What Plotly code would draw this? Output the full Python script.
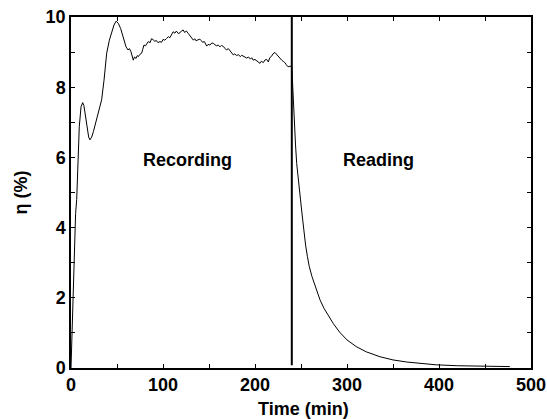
import plotly.graph_objects as go

# Recording phase (time in min, efficiency in %)
rec_t = [0, 1, 2, 3, 4, 5, 6.2, 7.5, 9, 10.9, 12.7, 14, 15.2, 16.5, 17.8, 19.2, 20.6, 22.5, 24.3, 26, 27.9, 29.7, 31.5, 33.3,
         35.9, 38.8, 41.7, 44, 46.7, 49, 51.4, 54, 56.9, 59.8, 62, 63.5, 65.2, 67.7, 69, 70.7, 72, 73.2, 75, 76.8, 78, 79.3,
         81, 82.5, 84, 86, 87.5, 89, 91, 92.8, 94.5, 96.7, 98.5, 100, 102, 104, 105.8, 107.5, 109, 111, 113, 114.5, 116.6,
         118.5, 120, 122, 123.5, 125.5, 127.5, 129, 131, 133, 134.5, 136, 138, 140, 141.5, 143, 145, 147.5, 149, 151, 153,
         154.7, 156.5, 158, 160, 162, 163.5, 165.6, 167.5, 169, 171, 173, 174.5, 176.4, 178, 180, 182, 184, 185.5, 187.3,
         189, 191, 193, 195, 196.5, 198, 200, 202, 203.5, 205.4, 207, 209, 211, 212.7, 214.5, 216, 218, 219.5, 221.7,
         223.5, 225, 227, 229, 231, 232.5, 234, 236, 238, 240]
rec_eta = [0.0, 0.9, 1.9, 2.9, 3.8, 4.4, 4.8, 6.0, 6.87, 7.44, 7.56, 7.48, 7.25, 6.98, 6.73, 6.58, 6.5, 6.58, 6.73, 6.9, 7.07, 7.22, 7.4, 7.64,
           8.2, 8.97, 9.34, 9.53, 9.77, 9.88, 9.82, 9.67, 9.44, 9.15, 9.06, 9.1, 9.01, 8.77, 8.86, 8.82, 8.9, 8.87, 8.94, 8.97, 9.08, 9.2,
           9.18, 9.26, 9.3, 9.27, 9.38, 9.36, 9.31, 9.33, 9.27, 9.3, 9.28, 9.36, 9.34, 9.39, 9.44, 9.41, 9.5, 9.58, 9.54, 9.6, 9.53,
           9.55, 9.6, 9.63, 9.56, 9.6, 9.53, 9.48, 9.43, 9.34, 9.38, 9.32, 9.35, 9.37, 9.33, 9.28, 9.3, 9.17, 9.22, 9.2, 9.26,
           9.25, 9.21, 9.18, 9.2, 9.15, 9.19, 9.16, 9.1, 9.06, 9.1, 9.02, 8.98, 8.92, 8.95, 8.9, 8.93, 8.87, 8.91, 8.89,
           8.85, 8.83, 8.86, 8.8, 8.84, 8.77, 8.79, 8.74, 8.71, 8.68, 8.74, 8.7, 8.78, 8.79, 8.72, 8.84, 8.88, 8.95, 8.99,
           8.93, 8.88, 8.82, 8.77, 8.73, 8.7, 8.64, 8.58, 8.6, 8.58]

# Reading phase
read_t = [240, 240.5, 241, 242, 243, 244, 245.3, 246.5, 248, 249.5, 251.5, 253.3, 255, 257, 259, 262, 266, 270.7,
          275, 280, 285, 292, 300, 310, 321, 336, 350, 365, 380, 397, 420, 450, 477]
read_eta = [8.58, 8.25, 7.92, 7.35, 6.85, 6.38, 5.83, 5.48, 5.13, 4.79, 4.3, 3.84, 3.5, 3.17, 2.89, 2.6, 2.27, 1.94,
            1.7, 1.47, 1.27, 1.02, 0.8, 0.61, 0.46, 0.32, 0.23, 0.17, 0.13, 0.09, 0.065, 0.05, 0.04]

# Phase separator
sep_t = [240, 240]
sep_eta = [0.08, 10]

x_ticks = [0, 50, 100, 150, 200, 250, 300, 350, 400, 450, 500]
x_labels = ["0", "", "100", "", "200", "", "300", "", "400", "", "500"]
y_ticks = [0, 1, 2, 3, 4, 5, 6, 7, 8, 9, 10]
y_labels = ["0", "", "2", "", "4", "", "6", "", "8", "", "10"]

FONT = "Liberation Sans, Arial, Helvetica, sans-serif"
BOLD18 = dict(family=FONT, size=18, color="black", weight="bold")

fig = go.Figure()
fig.add_trace(go.Scatter(x=rec_t, y=rec_eta, mode="lines", line=dict(color="black", width=1), showlegend=False))
fig.add_trace(go.Scatter(x=read_t, y=read_eta, mode="lines", line=dict(color="black", width=1), showlegend=False))
fig.add_trace(go.Scatter(x=sep_t, y=sep_eta, mode="lines", line=dict(color="black", width=2), showlegend=False))

fig.add_annotation(x=126.6, y=5.93, text="Recording", showarrow=False, font=BOLD18)
fig.add_annotation(x=333.7, y=5.93, text="Reading", showarrow=False, font=BOLD18)

# axis titles
fig.add_annotation(xref="paper", yref="paper", x=0.505, y=0, yshift=-41, yanchor="middle",
                   text="Time (min)", showarrow=False, font=BOLD18)
fig.add_annotation(xref="paper", yref="paper", x=0, y=0.5, xshift=-51, xanchor="center",
                   text="η (%)", textangle=-90, showarrow=False, font=BOLD18)

axis_common = dict(showgrid=False, zeroline=False, showline=True, linecolor="black", linewidth=1.5,
                   mirror="ticks", ticks="inside", ticklen=4, tickwidth=1, tickcolor="black",
                   tickfont=BOLD18, automargin=False, ticklabeloverflow="allow")

fig.update_xaxes(range=[0, 500], tickvals=x_ticks, ticktext=x_labels, **axis_common)
fig.update_yaxes(range=[0, 10], tickvals=y_ticks, ticktext=y_labels, **axis_common)

fig.update_layout(width=547, height=419, margin=dict(l=71, r=16, t=17, b=51),
                  plot_bgcolor="white", paper_bgcolor="white")

fig.write_html("out.html", config={"displayModeBar": False},
               post_script="document.body.style.margin='0';document.body.style.overflow='hidden';")
